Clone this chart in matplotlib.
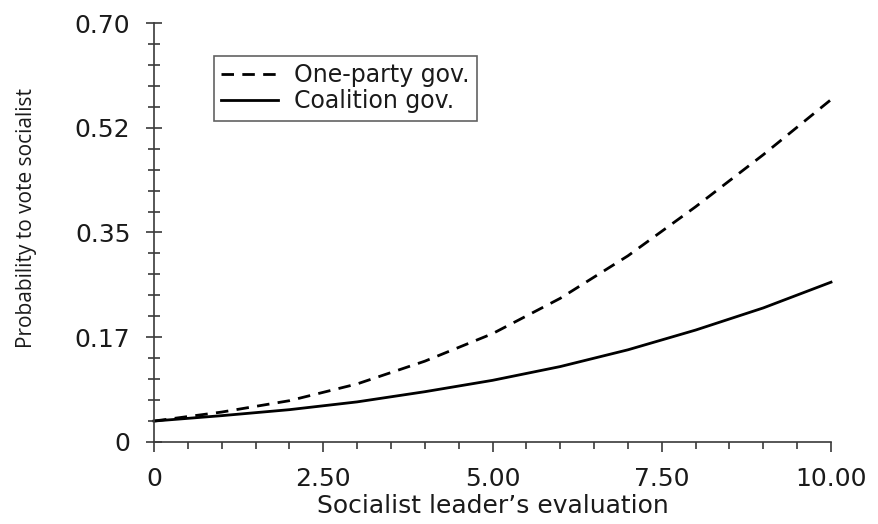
import matplotlib
matplotlib.use("Agg")
import matplotlib.pyplot as plt
from matplotlib.ticker import MultipleLocator, FixedLocator, FixedFormatter

plt.rcParams['font.family'] = ['DejaVu Sans']

# values
evaluation = [0, 1, 2, 3, 4, 5, 6, 7, 8, 9, 10]
one_party = [0.035, 0.050, 0.069, 0.097, 0.135, 0.181, 0.240, 0.311, 0.393, 0.480, 0.572]
coalition = [0.035, 0.044, 0.054, 0.067, 0.084, 0.103, 0.126, 0.154, 0.187, 0.224, 0.267]

x_ticks = [0, 2.5, 5.0, 7.5, 10.0]
x_tick_labels = ["0", "2.50", "5.00", "7.50", "10.00"]
y_ticks = [0, 0.175, 0.35, 0.525, 0.70]
y_tick_labels = ["0", "0.17", "0.35", "0.52", "0.70"]

axis_color = "#3a3a3a"
text_color = "#1a1a1a"

fig = plt.figure(figsize=(8.79, 5.24), dpi=100)
ax = fig.add_axes([0.1752, 0.1565, 0.9454 - 0.1752, 0.9561 - 0.1565])

ax.plot(evaluation, one_party, color="black", lw=2.0, dashes=(4.5, 3),
        label="One-party gov.", clip_on=False)
ax.plot(evaluation, coalition, color="black", lw=2.0,
        label="Coalition gov.", clip_on=False)

ax.set_xlim(0, 10)
ax.set_ylim(0, 0.70)

for side in ["top", "right"]:
    ax.spines[side].set_visible(False)
for side in ["left", "bottom"]:
    ax.spines[side].set_color(axis_color)
    ax.spines[side].set_linewidth(1.2)

ax.xaxis.set_major_locator(FixedLocator(x_ticks))
ax.xaxis.set_major_formatter(FixedFormatter(x_tick_labels))
ax.xaxis.set_minor_locator(MultipleLocator(0.5))
ax.yaxis.set_major_locator(FixedLocator(y_ticks))
ax.yaxis.set_major_formatter(FixedFormatter(y_tick_labels))
ax.yaxis.set_minor_locator(MultipleLocator(0.035))

ax.tick_params(axis="x", which="major", direction="out", length=7, width=1.2,
               color=axis_color, labelsize=18, labelcolor=text_color, pad=11)
ax.tick_params(axis="x", which="minor", direction="out", length=5, width=1.2,
               color=axis_color)
ax.tick_params(axis="y", which="major", direction="inout", length=12, width=1.2,
               color=axis_color, labelsize=18, labelcolor=text_color, pad=11)
ax.tick_params(axis="y", which="minor", direction="inout", length=8, width=1.2,
               color=axis_color)

ax.set_xlabel("Socialist leader\u2019s evaluation", fontsize=18, color=text_color,
              labelpad=2)
ax.set_ylabel("Probability to vote socialist", fontsize=15, color=text_color,
              family=['Open Sans', 'DejaVu Sans'])
ax.yaxis.set_label_coords(-0.173, 0.535)

leg = ax.legend(loc="upper left", bbox_to_anchor=(0.2435, 0.8931),
                bbox_transform=fig.transFigure, fontsize=17, frameon=True,
                fancybox=False, handlelength=2.4, handletextpad=0.7,
                borderpad=0.3, labelspacing=0.1, borderaxespad=0)
leg.get_frame().set_edgecolor(axis_color)
leg.get_frame().set_linewidth(1.2)
for t in leg.get_texts():
    t.set_color(text_color)

fig.savefig("out.png", dpi=100)
